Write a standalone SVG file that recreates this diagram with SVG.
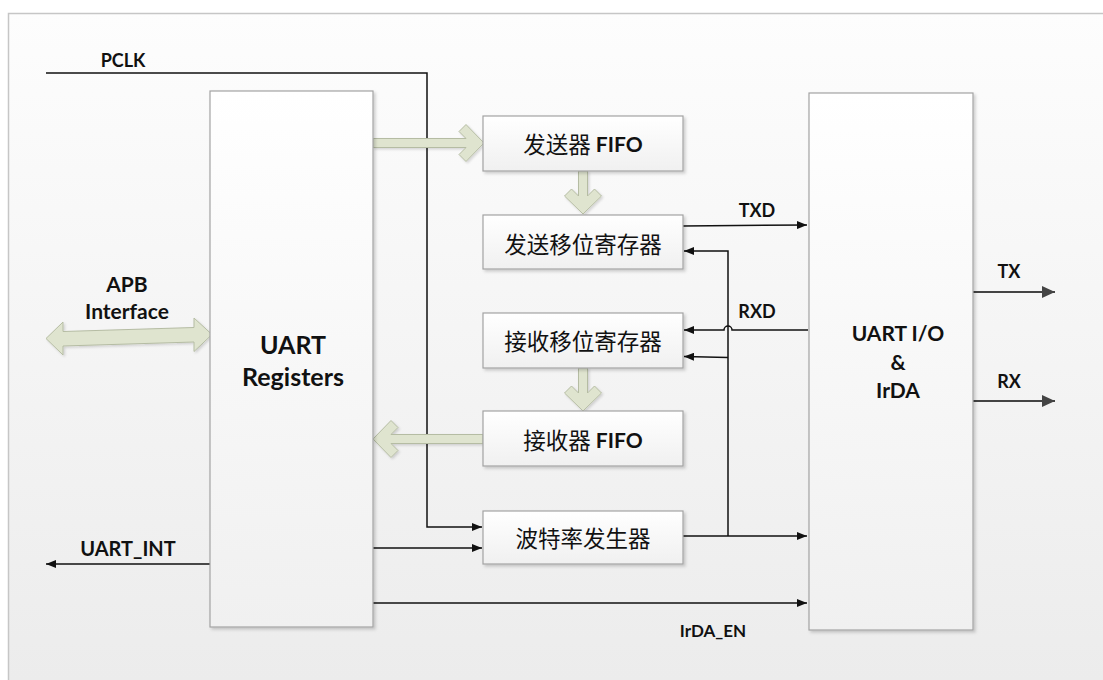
<svg xmlns="http://www.w3.org/2000/svg" width="1103" height="680" viewBox="0 0 1103 680">
<style>
.box{fill:url(#bg2);stroke:#a3a3a3;stroke-width:1.2;filter:url(#sh)}
.cn{font-family:"Noto Sans CJK SC",sans-serif;font-size:22.5px;fill:#111;text-anchor:middle;dominant-baseline:central}
.en{font-family:Lato,"Liberation Sans",sans-serif;font-weight:bold;font-size:21px;fill:#111}
.lbl{font-family:Lato,"Liberation Sans",sans-serif;font-weight:bold;font-size:18px;fill:#111;text-anchor:middle;dominant-baseline:central}
.big{font-family:Lato,"Liberation Sans",sans-serif;font-weight:bold;fill:#111;text-anchor:middle;dominant-baseline:central}
.ln{fill:none;stroke:#111;stroke-width:1.5}
.gl{fill:none;stroke:#444;stroke-width:1.8}
.fat{fill:#dfe4cf;stroke:#b5bca3;stroke-width:1;filter:url(#sh2)}
</style>
<defs>
<linearGradient id="bg" x1="0" y1="13" x2="0" y2="680" gradientUnits="userSpaceOnUse">
<stop offset="0" stop-color="#fdfdfd"/><stop offset="1" stop-color="#ececec"/>
</linearGradient>
<linearGradient id="bg2" x1="0" y1="0" x2="0" y2="1">
<stop offset="0" stop-color="#ffffff"/><stop offset="1" stop-color="#f0f0f0"/>
</linearGradient>
<filter id="sh" x="-10%" y="-10%" width="130%" height="130%"><feDropShadow dx="2" dy="2" stdDeviation="1.5" flood-color="#000" flood-opacity="0.18"/></filter>
<filter id="sh2" x="-10%" y="-20%" width="130%" height="150%"><feDropShadow dx="1.5" dy="1.5" stdDeviation="1" flood-color="#000" flood-opacity="0.15"/></filter>
<marker id="ah" viewBox="0 0 10 8" refX="10" refY="4" markerWidth="10" markerHeight="8" orient="auto" markerUnits="userSpaceOnUse"><path d="M0,0 L10,4 L0,8 z" fill="#111"/></marker>
<marker id="ag" viewBox="0 0 13 12" refX="13" refY="6" markerWidth="13" markerHeight="12" orient="auto" markerUnits="userSpaceOnUse"><path d="M0,0 L13,6 L0,12 z" fill="#444"/></marker>
</defs>
<rect x="0" y="0" width="1103" height="680" fill="#ffffff"/>
<rect x="8.5" y="13.5" width="1200" height="700" fill="url(#bg)" stroke="#c6c6c6" stroke-width="1.5"/>

<g id="connectors">
<path class="ln" d="M46,73 H427 V527 H482" marker-end="url(#ah)"/>
<path class="ln" d="M373,548 H482" marker-end="url(#ah)"/>
<path class="ln" d="M210,564 H46" marker-end="url(#ah)"/>
<path class="ln" d="M373,603 H807" marker-end="url(#ah)"/>
<path class="ln" d="M683,226 L807,225" marker-end="url(#ah)"/>
<path class="ln" d="M683,536 H807" marker-end="url(#ah)"/>
<path class="ln" d="M728,536 V251 H684" marker-end="url(#ah)"/>
<path class="ln" d="M728,357.5 L684,356.5" marker-end="url(#ah)"/>
<path class="ln" d="M808,330 H732 A4,4 0 0 0 724,330 H684" marker-end="url(#ah)"/>
<path class="gl" d="M973,292 H1055" marker-end="url(#ag)"/>
<path class="gl" d="M973,401 H1055" marker-end="url(#ag)"/>
<polygon class="fat" points="373,138.5 466,138.5 459,131.5 466,124.5 484,143 466,161.5 459,154.5 466,147.5 373,147.5"/>
<polygon class="fat" points="483,434.5 391,434.5 398,427.5 391,420.5 373,439 391,457.5 398,450.5 391,443.5 483,443.5"/>
<polygon class="fat" points="587.5,171 587.5,196 594.5,189 601.5,196 583,214 564.5,196 571.5,189 578.5,196 578.5,171"/>
<polygon class="fat" points="587.5,368 587.5,393 594.5,386 601.5,393 583,411 564.5,393 571.5,386 578.5,393 578.5,368"/>
<polygon class="fat" points="46,338.5 63,322 63,331.5 194,327.5 194,318 212,334.5 194,351.5 194,342 63,346 63,355"/>
<text class="lbl" x="123" y="60">PCLK</text>
<text class="big" x="127" y="283" style="font-size:21px">APB</text>
<text class="big" x="127" y="310" style="font-size:21px">Interface</text>
<text class="lbl" x="128" y="548" style="font-size:20px">UART_INT</text>
<text class="lbl" x="757" y="210">TXD</text>
<text class="lbl" x="757" y="311">RXD</text>
<text class="lbl" x="713" y="630" style="font-size:17px">IrDA_EN</text>
<text class="lbl" x="1009" y="271">TX</text>
<text class="lbl" x="1009" y="381">RX</text>
</g>

<g id="uart-registers">
<rect class="box" x="210" y="91" width="163" height="536"/>
<text class="big" x="293" y="344" style="font-size:25px">UART</text>
<text class="big" x="293" y="376" style="font-size:25px">Registers</text>
</g>
<g id="tx-fifo">
<rect class="box" x="483" y="116" width="200" height="55"/>
<text class="cn" x="583" y="143">发送器 <tspan class="en">FIFO</tspan></text>
</g>
<g id="tx-shift">
<rect class="box" x="483" y="215" width="200" height="54"/>
<text class="cn" x="583" y="243">发送移位寄存器</text>
</g>
<g id="rx-shift">
<rect class="box" x="483" y="313" width="200" height="55"/>
<text class="cn" x="583" y="340">接收移位寄存器</text>
</g>
<g id="rx-fifo">
<rect class="box" x="483" y="411" width="200" height="55"/>
<text class="cn" x="583" y="439">接收器 <tspan class="en">FIFO</tspan></text>
</g>
<g id="baud-gen">
<rect class="box" x="483" y="511" width="200" height="53"/>
<text class="cn" x="583" y="537">波特率发生器</text>
</g>
<g id="uart-io">
<rect class="box" x="809" y="93" width="164" height="537"/>
<text class="big" x="898" y="332" style="font-size:21px">UART I/O</text>
<text class="big" x="898" y="361" style="font-size:21px">&amp;</text>
<text class="big" x="898" y="389" style="font-size:21px">IrDA</text>
</g>
</svg>
